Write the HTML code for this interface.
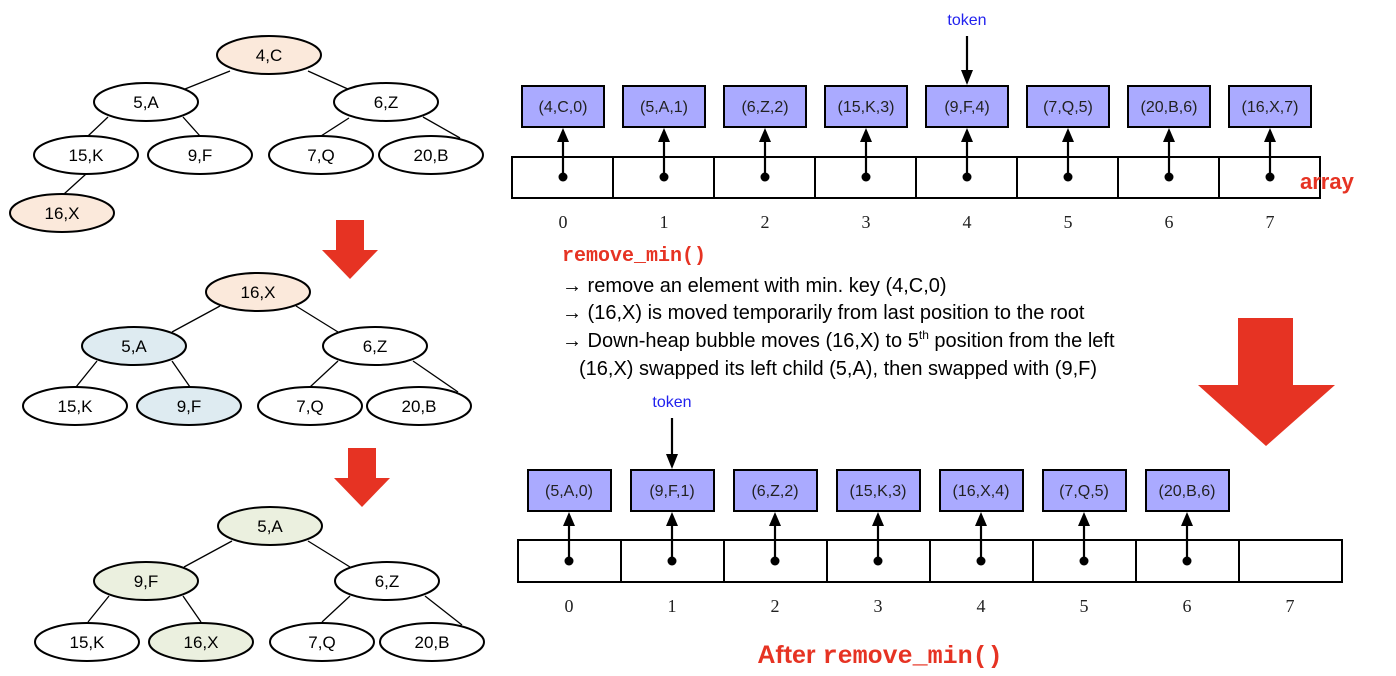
<!DOCTYPE html>
<html><head><style>
html,body{margin:0;padding:0;background:#fff;}
svg{display:block;}
</style></head><body>
<svg width="1396" height="676" viewBox="0 0 1396 676" xmlns="http://www.w3.org/2000/svg" font-family="Liberation Sans, DejaVu Sans, sans-serif">
<g stroke="#000" stroke-width="1.3">
<line x1="230" y1="71" x2="185" y2="89"/><line x1="308" y1="71" x2="350" y2="90"/>
<line x1="108" y1="117" x2="88" y2="136"/><line x1="183" y1="117" x2="200" y2="136"/>
<line x1="349" y1="118" x2="321" y2="136"/><line x1="423" y1="117" x2="460" y2="138"/>
<line x1="86" y1="174" x2="64" y2="194"/>
<line x1="220" y1="306" x2="172" y2="332"/><line x1="296" y1="306" x2="338" y2="332"/>
<line x1="97" y1="361" x2="76" y2="387"/><line x1="172" y1="361" x2="190" y2="387"/>
<line x1="338" y1="361" x2="310" y2="387"/><line x1="413" y1="361" x2="458" y2="392"/>
<line x1="232" y1="541" x2="184" y2="567"/><line x1="308" y1="541" x2="350" y2="567"/>
<line x1="109" y1="596" x2="88" y2="622"/><line x1="183" y1="596" x2="201" y2="622"/>
<line x1="350" y1="596" x2="322" y2="622"/><line x1="425" y1="596" x2="462" y2="625"/>
</g>
<g stroke="#000" stroke-width="2">
<ellipse cx="269" cy="55" rx="52" ry="19" fill="#fbe9db"/>
<ellipse cx="146" cy="102" rx="52" ry="19" fill="#fff"/>
<ellipse cx="386" cy="102" rx="52" ry="19" fill="#fff"/>
<ellipse cx="86" cy="155" rx="52" ry="19" fill="#fff"/>
<ellipse cx="200" cy="155" rx="52" ry="19" fill="#fff"/>
<ellipse cx="321" cy="155" rx="52" ry="19" fill="#fff"/>
<ellipse cx="431" cy="155" rx="52" ry="19" fill="#fff"/>
<ellipse cx="62" cy="213" rx="52" ry="19" fill="#fbe9db"/>
<ellipse cx="258" cy="292" rx="52" ry="19" fill="#fbe9db"/>
<ellipse cx="134" cy="346" rx="52" ry="19" fill="#deebf1"/>
<ellipse cx="375" cy="346" rx="52" ry="19" fill="#fff"/>
<ellipse cx="75" cy="406" rx="52" ry="19" fill="#fff"/>
<ellipse cx="189" cy="406" rx="52" ry="19" fill="#deebf1"/>
<ellipse cx="310" cy="406" rx="52" ry="19" fill="#fff"/>
<ellipse cx="419" cy="406" rx="52" ry="19" fill="#fff"/>
<ellipse cx="270" cy="526" rx="52" ry="19" fill="#ebf0df"/>
<ellipse cx="146" cy="581" rx="52" ry="19" fill="#ebf0df"/>
<ellipse cx="387" cy="581" rx="52" ry="19" fill="#fff"/>
<ellipse cx="87" cy="642" rx="52" ry="19" fill="#fff"/>
<ellipse cx="201" cy="642" rx="52" ry="19" fill="#ebf0df"/>
<ellipse cx="322" cy="642" rx="52" ry="19" fill="#fff"/>
<ellipse cx="432" cy="642" rx="52" ry="19" fill="#fff"/>
</g>
<g font-size="17" text-anchor="middle" fill="#000">
<text x="269" y="61">4,C</text><text x="146" y="108">5,A</text><text x="386" y="108">6,Z</text>
<text x="86" y="161">15,K</text><text x="200" y="161">9,F</text><text x="321" y="161">7,Q</text><text x="431" y="161">20,B</text>
<text x="62" y="219">16,X</text>
<text x="258" y="298">16,X</text><text x="134" y="352">5,A</text><text x="375" y="352">6,Z</text>
<text x="75" y="412">15,K</text><text x="189" y="412">9,F</text><text x="310" y="412">7,Q</text><text x="419" y="412">20,B</text>
<text x="270" y="532">5,A</text><text x="146" y="587">9,F</text><text x="387" y="587">6,Z</text>
<text x="87" y="648">15,K</text><text x="201" y="648">16,X</text><text x="322" y="648">7,Q</text><text x="432" y="648">20,B</text>
</g>
<g fill="#e63323">
<polygon points="336,220 364,220 364,250 378,250 350,279 322,250 336,250"/>
<polygon points="348,448 376,448 376,478 390,478 362,507 334,478 348,478"/>
<polygon points="1238,318 1293,318 1293,385 1335,385 1266,446 1198,385 1238,385"/>
</g>

<!-- Top array -->
<g stroke="#000" stroke-width="2" fill="none">
<rect x="512" y="157" width="808" height="41"/>
<line x1="613" y1="157" x2="613" y2="198"/><line x1="714" y1="157" x2="714" y2="198"/>
<line x1="815" y1="157" x2="815" y2="198"/><line x1="916" y1="157" x2="916" y2="198"/>
<line x1="1017" y1="157" x2="1017" y2="198"/><line x1="1118" y1="157" x2="1118" y2="198"/>
<line x1="1219" y1="157" x2="1219" y2="198"/>
</g>
<g stroke="#000" stroke-width="2" fill="#aaaaff">
<rect x="522" y="86" width="82" height="41"/><rect x="623" y="86" width="82" height="41"/>
<rect x="724" y="86" width="82" height="41"/><rect x="825" y="86" width="82" height="41"/>
<rect x="926" y="86" width="82" height="41"/><rect x="1027" y="86" width="82" height="41"/>
<rect x="1128" y="86" width="82" height="41"/><rect x="1229" y="86" width="82" height="41"/>
</g>
<g stroke="#000" stroke-width="2.2">
<line x1="563" y1="177" x2="563" y2="140"/><line x1="664" y1="177" x2="664" y2="140"/>
<line x1="765" y1="177" x2="765" y2="140"/><line x1="866" y1="177" x2="866" y2="140"/>
<line x1="967" y1="177" x2="967" y2="140"/><line x1="1068" y1="177" x2="1068" y2="140"/>
<line x1="1169" y1="177" x2="1169" y2="140"/><line x1="1270" y1="177" x2="1270" y2="140"/>
<line x1="967" y1="36" x2="967" y2="72"/>
</g>
<g fill="#000">
<polygon points="563,128 557,142 569,142"/><polygon points="664,128 658,142 670,142"/>
<polygon points="765,128 759,142 771,142"/><polygon points="866,128 860,142 872,142"/>
<polygon points="967,128 961,142 973,142"/><polygon points="1068,128 1062,142 1074,142"/>
<polygon points="1169,128 1163,142 1175,142"/><polygon points="1270,128 1264,142 1276,142"/>
<polygon points="967,85 961,70 973,70"/>
<circle cx="563" cy="177" r="4.5"/><circle cx="664" cy="177" r="4.5"/><circle cx="765" cy="177" r="4.5"/><circle cx="866" cy="177" r="4.5"/>
<circle cx="967" cy="177" r="4.5"/><circle cx="1068" cy="177" r="4.5"/><circle cx="1169" cy="177" r="4.5"/><circle cx="1270" cy="177" r="4.5"/>
</g>
<g font-size="16" text-anchor="middle" fill="#222">
<text x="563" y="112">(4,C,0)</text><text x="664" y="112">(5,A,1)</text><text x="765" y="112">(6,Z,2)</text><text x="866" y="112">(15,K,3)</text>
<text x="967" y="112">(9,F,4)</text><text x="1068" y="112">(7,Q,5)</text><text x="1169" y="112">(20,B,6)</text><text x="1270" y="112">(16,X,7)</text>
</g>
<g font-size="18" text-anchor="middle" fill="#222" font-family="Liberation Serif, serif">
<text x="563" y="228">0</text><text x="664" y="228">1</text><text x="765" y="228">2</text><text x="866" y="228">3</text>
<text x="967" y="228">4</text><text x="1068" y="228">5</text><text x="1169" y="228">6</text><text x="1270" y="228">7</text>
</g>
<text x="967" y="25" font-size="16" fill="#2222ee" text-anchor="middle">token</text>
<text x="1300" y="189" font-size="22" font-weight="bold" fill="#e63323">array</text>

<text x="562" y="261" font-family="Liberation Mono, monospace" font-size="20" font-weight="bold" fill="#e63323">remove_min()</text>
<g font-size="20" fill="#000">
<text x="562" y="292"><tspan font-weight="bold">→</tspan> remove an element with min. key (4,C,0)</text>
<text x="562" y="319"><tspan font-weight="bold">→</tspan> (16,X) is moved temporarily from last position to the root</text>
<text x="562" y="347"><tspan font-weight="bold">→</tspan> Down-heap bubble moves (16,X) to 5<tspan font-size="12" dy="-8">th</tspan><tspan dy="8"> position from the left</tspan></text>
<text x="579" y="375">(16,X) swapped its left child (5,A), then swapped with (9,F)</text>
</g>

<!-- Bottom array -->
<g stroke="#000" stroke-width="2" fill="none">
<rect x="518" y="540" width="824" height="42"/>
<line x1="621" y1="540" x2="621" y2="582"/><line x1="724" y1="540" x2="724" y2="582"/>
<line x1="827" y1="540" x2="827" y2="582"/><line x1="930" y1="540" x2="930" y2="582"/>
<line x1="1033" y1="540" x2="1033" y2="582"/><line x1="1136" y1="540" x2="1136" y2="582"/>
<line x1="1239" y1="540" x2="1239" y2="582"/>
</g>
<g stroke="#000" stroke-width="2" fill="#aaaaff">
<rect x="528" y="470" width="83" height="41"/><rect x="631" y="470" width="83" height="41"/>
<rect x="734" y="470" width="83" height="41"/><rect x="837" y="470" width="83" height="41"/>
<rect x="940" y="470" width="83" height="41"/><rect x="1043" y="470" width="83" height="41"/>
<rect x="1146" y="470" width="83" height="41"/>
</g>
<g stroke="#000" stroke-width="2.2">
<line x1="569" y1="561" x2="569" y2="524"/><line x1="672" y1="561" x2="672" y2="524"/>
<line x1="775" y1="561" x2="775" y2="524"/><line x1="878" y1="561" x2="878" y2="524"/>
<line x1="981" y1="561" x2="981" y2="524"/><line x1="1084" y1="561" x2="1084" y2="524"/>
<line x1="1187" y1="561" x2="1187" y2="524"/>
<line x1="672" y1="418" x2="672" y2="456"/>
</g>
<g fill="#000">
<polygon points="569,512 563,526 575,526"/><polygon points="672,512 666,526 678,526"/>
<polygon points="775,512 769,526 781,526"/><polygon points="878,512 872,526 884,526"/>
<polygon points="981,512 975,526 987,526"/><polygon points="1084,512 1078,526 1090,526"/>
<polygon points="1187,512 1181,526 1193,526"/>
<polygon points="672,469 666,454 678,454"/>
<circle cx="569" cy="561" r="4.5"/><circle cx="672" cy="561" r="4.5"/><circle cx="775" cy="561" r="4.5"/><circle cx="878" cy="561" r="4.5"/>
<circle cx="981" cy="561" r="4.5"/><circle cx="1084" cy="561" r="4.5"/><circle cx="1187" cy="561" r="4.5"/>
</g>
<g font-size="16" text-anchor="middle" fill="#222">
<text x="569" y="496">(5,A,0)</text><text x="672" y="496">(9,F,1)</text><text x="775" y="496">(6,Z,2)</text><text x="878" y="496">(15,K,3)</text>
<text x="981" y="496">(16,X,4)</text><text x="1084" y="496">(7,Q,5)</text><text x="1187" y="496">(20,B,6)</text>
</g>
<g font-size="18" text-anchor="middle" fill="#222" font-family="Liberation Serif, serif">
<text x="569" y="612">0</text><text x="672" y="612">1</text><text x="775" y="612">2</text><text x="878" y="612">3</text>
<text x="981" y="612">4</text><text x="1084" y="612">5</text><text x="1187" y="612">6</text><text x="1290" y="612">7</text>
</g>
<text x="672" y="407" font-size="16" fill="#2222ee" text-anchor="middle">token</text>
<text x="880" y="663" text-anchor="middle" fill="#e63323" font-weight="bold"><tspan font-size="25">After </tspan><tspan font-family="Liberation Mono, monospace" font-size="25">remove_min()</tspan></text>
</svg>
</body></html>
